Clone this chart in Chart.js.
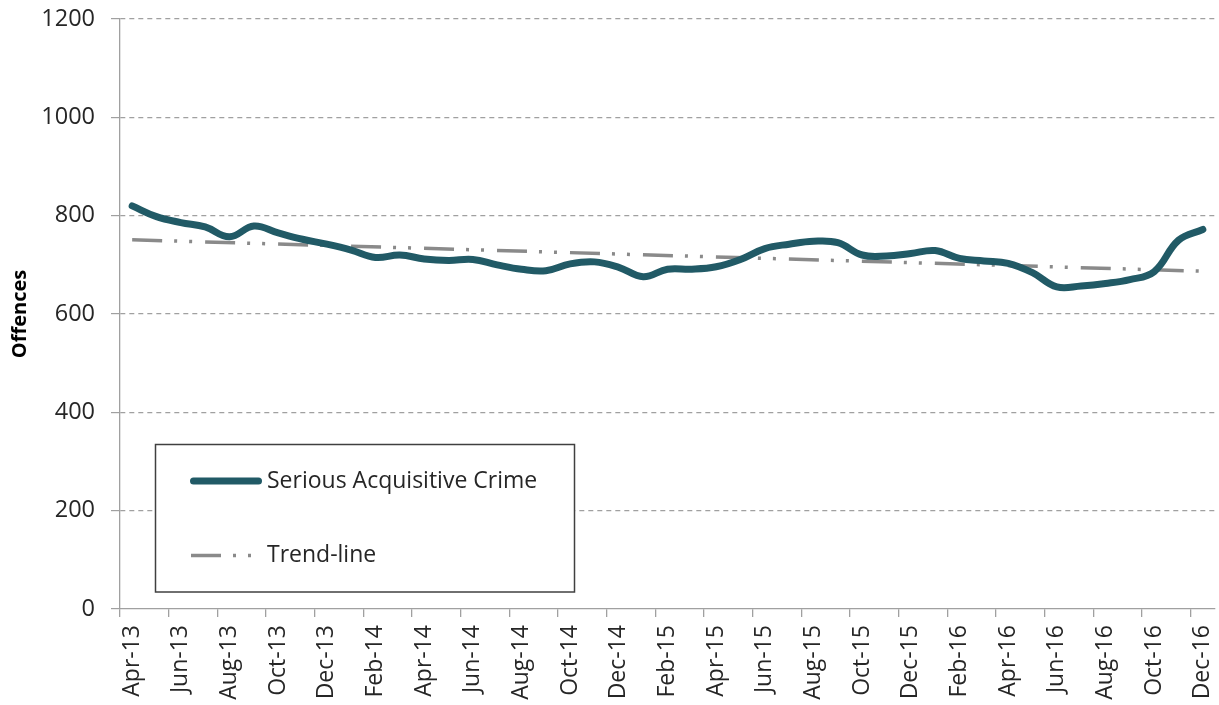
<!DOCTYPE html>
<html>
<head>
<meta charset="utf-8">
<script src="https://cdn.jsdelivr.net/npm/chart.js@4.4.1/dist/chart.umd.min.js"></script>
<style>
  html, body { margin: 0; padding: 0; background: #fff; }
  #wrap { width: 1219px; height: 705px; }
</style>
</head>
<body>
<div id="wrap"><canvas id="chart"></canvas></div>
<script>
// ── Data ──────────────────────────────────────────────────────────────────
const MONTHS = [
  "Apr-13", "May-13", "Jun-13", "Jul-13", "Aug-13", "Sep-13", "Oct-13", "Nov-13", "Dec-13",
  "Jan-14", "Feb-14", "Mar-14", "Apr-14", "May-14", "Jun-14", "Jul-14", "Aug-14", "Sep-14",
  "Oct-14", "Nov-14", "Dec-14", "Jan-15", "Feb-15", "Mar-15", "Apr-15", "May-15", "Jun-15",
  "Jul-15", "Aug-15", "Sep-15", "Oct-15", "Nov-15", "Dec-15", "Jan-16", "Feb-16", "Mar-16",
  "Apr-16", "May-16", "Jun-16", "Jul-16", "Aug-16", "Sep-16", "Oct-16", "Nov-16", "Dec-16",
];

const SAC = [
  820, 798, 786, 777, 757, 779, 765, 752, 742,
  730, 715, 720, 712, 709, 711, 700, 691, 688,
  702, 706, 695, 676, 691, 691, 696, 711, 733,
  742, 748, 745, 720, 718, 723, 729, 713, 708,
  703, 684, 655, 657, 662, 670, 686, 750, 772,
];

// trend-line end points
const TREND = [
  { x: "Apr-13", y: 751 },
  { x: "Dec-16", y: 687 },
];

const Y_MIN = 0;
const Y_MAX = 1200;
const Y_STEP = 200;

// ── Styling ───────────────────────────────────────────────────────────────
const FONT = "'Open Sans', 'Liberation Sans', sans-serif";
const TEXT = "#262626";
const AXIS = "#a0a0a0";
const TEAL = "#215a66";
const GREY = "#8a8a8a";
const TREND_DASH = [30, 12, 3, 12, 3, 13];

// legend drawn as a framed box inside the plot
const boxLegend = {
  id: "boxLegend",
  afterDatasetsDraw(chart, args, opts) {
    const ctx = chart.ctx;
    ctx.save();
    ctx.fillStyle = "#fff";
    ctx.fillRect(opts.left, opts.top, opts.width, opts.height);
    ctx.strokeStyle = opts.borderColor;
    ctx.lineWidth = opts.borderWidth;
    ctx.strokeRect(opts.left, opts.top, opts.width, opts.height);
    chart.data.datasets.forEach((ds, i) => {
      const row = opts.rows[i];
      ctx.beginPath();
      ctx.setLineDash(ds.borderDash || []);
      ctx.lineCap = ds.borderCapStyle || "butt";
      ctx.lineWidth = ds.borderWidth;
      ctx.strokeStyle = ds.borderColor;
      ctx.moveTo(row.from, row.y);
      ctx.lineTo(row.to, row.y);
      ctx.stroke();
      ctx.setLineDash([]);
      ctx.fillStyle = opts.color;
      ctx.font = opts.font;
      ctx.textBaseline = "middle";
      ctx.fillText(ds.label, opts.textX, row.y);
    });
    ctx.restore();
  },
};

new Chart(document.getElementById("chart"), {
  type: "line",
  data: {
    labels: MONTHS,
    datasets: [
      {
        label: "Serious Acquisitive Crime",
        data: SAC,
        borderColor: TEAL,
        borderWidth: 7,
        borderCapStyle: "round",
        borderJoinStyle: "round",
        tension: 0.4,
        pointRadius: 0,
        fill: false,
      },
      {
        label: "Trend-line",
        data: TREND,
        borderColor: GREY,
        borderWidth: 3.5,
        borderDash: TREND_DASH,
        borderCapStyle: "butt",
        pointRadius: 0,
        fill: false,
      },
    ],
  },
  options: {
    responsive: true,
    maintainAspectRatio: false,
    animation: false,
    layout: { padding: { top: 19, right: 4, bottom: 0, left: 0 } },
    plugins: {
      legend: { display: false },
      tooltip: { enabled: false },
      boxLegend: {
        left: 155.5,
        top: 444.5,
        width: 419,
        height: 147.5,
        borderColor: "#404040",
        borderWidth: 1.5,
        color: TEXT,
        font: `23px ${FONT}`,
        textX: 267,
        rows: [
          { y: 481, from: 193.5, to: 258.5 },
          { y: 555.5, from: 191, to: 252 },
        ],
      },
    },
    scales: {
      x: {
        type: "category",
        offset: true,
        grid: {
          offset: true,
          drawOnChartArea: false,
          drawTicks: true,
          tickLength: 8,
          color: (c) => (c.index % 2 === 0 ? AXIS : "transparent"),
          tickBorderDash: [],
          lineWidth: 1.3,
        },
        border: { display: true, color: AXIS, width: 1.3 },
        ticks: {
          autoSkip: false,
          minRotation: 90,
          maxRotation: 90,
          padding: 8,
          color: TEXT,
          font: { family: FONT, size: 23 },
          callback: (v, i) => (i % 2 === 0 ? MONTHS[i] : ""),
        },
        afterFit(scale) {
          scale.height = 96;
          scale.paddingLeft = 0;
          scale.paddingRight = 0;
        },
      },
      y: {
        min: Y_MIN,
        max: Y_MAX,
        grid: {
          color: (c) => (c.tick && c.tick.value === 0 ? "transparent" : AXIS),
          lineWidth: 1.2,
          tickLength: 9,
          tickColor: AXIS,
          tickBorderDash: [],
        },
        border: { display: true, color: AXIS, width: 1.3, dash: [5, 4] },
        ticks: {
          stepSize: Y_STEP,
          padding: 16,
          color: TEXT,
          font: { family: FONT, size: 23.5 },
          callback: (v) => String(v),
        },
        title: {
          display: true,
          text: "Offences",
          color: "#000",
          padding: { top: 8, bottom: 0 },
          font: { family: FONT, size: 20, weight: "bold" },
        },
        afterFit(scale) {
          scale.width = 120;
          scale.paddingTop = 0;
          scale.paddingBottom = 0;
        },
      },
    },
  },
  plugins: [boxLegend],
});
</script>
</body>
</html>
